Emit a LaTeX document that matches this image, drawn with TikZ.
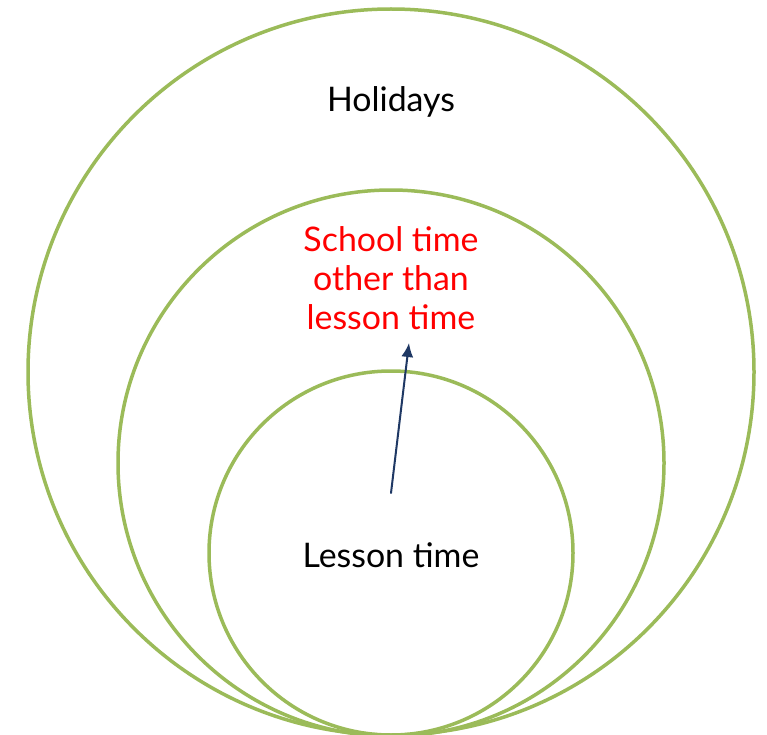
\documentclass[tikz,border=0pt]{standalone}
\usepackage{fontspec}
\setmainfont{Lato}
\usetikzlibrary{arrows.meta}
\definecolor{ringgreen}{HTML}{9BBB59}
\definecolor{arrownavy}{HTML}{1F3864}
\definecolor{labelred}{HTML}{FF0000}
\begin{document}
\begin{tikzpicture}[x=1bp, y=-1bp, line cap=round, line join=round]
    % canvas
    \useasboundingbox (0,0) rectangle (767,735);
    \tikzset{ring/.style={line width=3.5bp, ringgreen},
             label/.style={font=\fontsize{34}{39}\selectfont, align=center}}

    % nested circles, all touching at the bottom
    \draw[ring] (391,372) circle (363);
    \draw[ring] (391,463) circle (273);
    \draw[ring] (391,553) circle (182);

    % labels
    \node[label] (holidays) at (391,102) {Holidays};
    \node[label, text=labelred] (school) at (391,278) {School time\\other than\\lesson time};
    \node[label] (lesson) at (391,555) {Lesson time};

    % arrow from lesson time outwards
    \coordinate (tail) at (391,493);
    \coordinate (tip) at (409,343);
    \draw[-{Latex[length=14bp, width=12bp]}, line width=2bp, arrownavy] (tail) -- (tip);
  \end{tikzpicture}
\end{document}
